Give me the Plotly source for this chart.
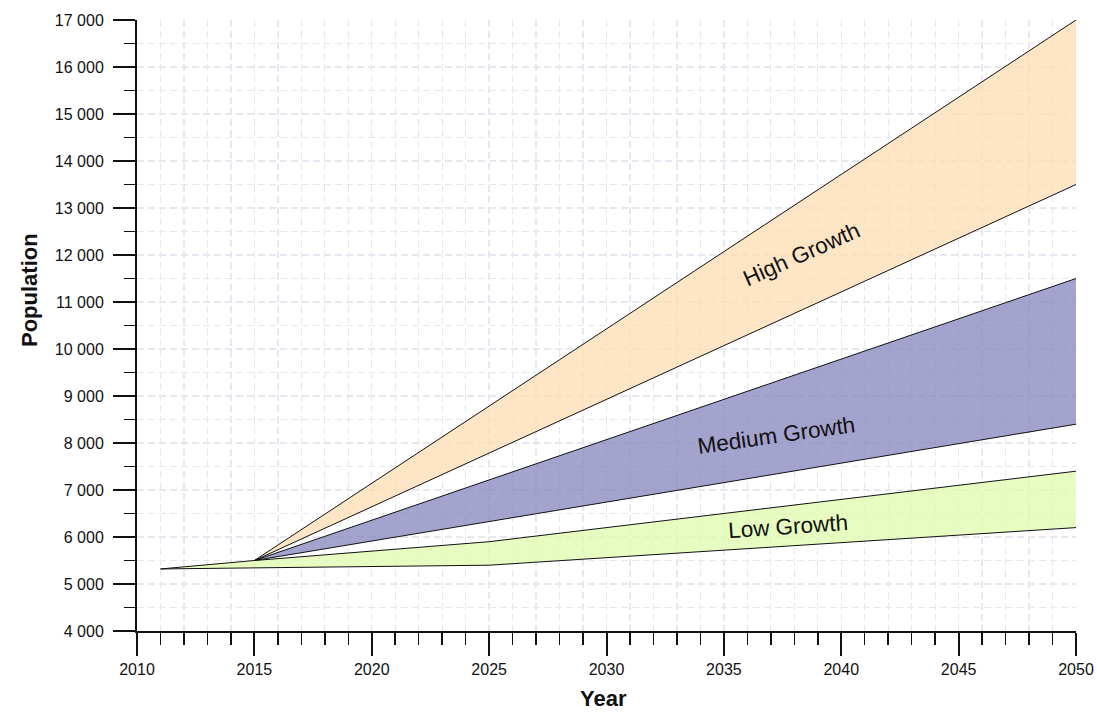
import plotly.graph_objects as go

# ---- data ----
low_lower_years = [2011, 2025, 2050]
low_lower = [5320, 5400, 6200]
low_upper_years = [2011, 2015, 2025, 2050]
low_upper = [5320, 5500, 5900, 7400]

medium_years = [2015, 2050]
medium_lower = [5500, 8400]
medium_upper = [5500, 11500]

high_years = [2015, 2050]
high_lower = [5500, 13500]
high_upper = [5500, 17000]

band_labels = ["High Growth", "Medium Growth", "Low Growth"]
label_x = [2038.3, 2037.25, 2037.75]
label_y = [12010, 8150, 6220]
label_angle = [-24, -8, -4]

# ---- styling ----
FONT = "Liberation Sans, Arial, sans-serif"
fill_high = "rgba(252,222,184,0.8)"
fill_med = "rgba(140,140,194,0.8)"
fill_low = "rgba(224,251,178,0.8)"
LINE = dict(color="#111111", width=1)

L, T, R, B = 137, 20, 21, 81
W, H = 1097, 712
PW = W - L - R
PH = H - T - B

fig = go.Figure()

def band(xu, yu, xl, yl, color):
    fig.add_trace(go.Scatter(
        x=list(xu) + list(xl)[::-1], y=list(yu) + list(yl)[::-1],
        fill="toself", fillcolor=color, mode="lines",
        line=dict(width=0, color=color), hoverinfo="skip", showlegend=False))

band(high_years, high_upper, high_years, high_lower, fill_high)
band(medium_years, medium_upper, medium_years, medium_lower, fill_med)
band(low_upper_years, low_upper, low_lower_years, low_lower, fill_low)

for xs, ys in [(high_years, high_upper), (high_years, high_lower),
               (medium_years, medium_upper), (medium_years, medium_lower),
               (low_upper_years, low_upper), (low_lower_years, low_lower)]:
    fig.add_trace(go.Scatter(x=xs, y=ys, mode="lines", line=LINE,
                             hoverinfo="skip", showlegend=False))

for t, x, y, a in zip(band_labels, label_x, label_y, label_angle):
    fig.add_annotation(x=x, y=y, xref="x", yref="y", text=t, textangle=a,
                       xanchor="center", yanchor="middle",
                       showarrow=False, font=dict(family=FONT, size=22.5, color="#111111"))

# axis titles (positions in screen px relative to plot area)
fig.add_annotation(x=(603 - L) / PW, y=(H - B - 698) / PH, xref="paper", yref="paper",
                   xanchor="center", yanchor="middle",
                   text="<b>Year</b>", showarrow=False,
                   font=dict(family=FONT, size=22, color="#111111"))
fig.add_annotation(x=(29 - L) / PW, y=(H - B - 290) / PH, xref="paper", yref="paper",
                   xanchor="center", yanchor="middle",
                   text="<b>Population</b>", showarrow=False, textangle=-90,
                   font=dict(family=FONT, size=22, color="#111111"))

GRID = "#e7e7ef"
DASH = "7px,4px"

fig.update_layout(
    template="none",
    width=W, height=H,
    margin=dict(l=L, r=R, t=T, b=B, autoexpand=False),
    paper_bgcolor="white", plot_bgcolor="white",
    separators=". ",
    showlegend=False,
    hovermode=False,
    xaxis=dict(
        range=[2010, 2050], tick0=2010, dtick=5, automargin=False,
        ticks="outside", ticklen=23, tickwidth=2, tickcolor="#111111",
        showline=True, linecolor="#111111", linewidth=2,
        showgrid=True, gridcolor=GRID, gridwidth=1.3, griddash=DASH,
        zeroline=False, tickformat="d",
        tickfont=dict(family=FONT, size=16, color="#111111"),
        ticklabelstandoff=0,
        minor=dict(dtick=1, ticks="outside", ticklen=12, tickwidth=1.5,
                   tickcolor="#111111", showgrid=True, gridcolor=GRID,
                   gridwidth=1.3, griddash=DASH),
    ),
    yaxis=dict(
        range=[4000, 17000], tick0=4000, dtick=1000, automargin=False,
        ticks="outside", ticklen=22, tickwidth=2, tickcolor="#111111",
        showline=True, linecolor="#111111", linewidth=2,
        showgrid=True, gridcolor=GRID, gridwidth=1.3, griddash=DASH,
        zeroline=False, tickformat=",d",
        tickfont=dict(family=FONT, size=16, color="#111111"),
        ticklabelstandoff=6,
        minor=dict(dtick=500, ticks="outside", ticklen=11, tickwidth=1.5,
                   tickcolor="#111111", showgrid=True, gridcolor=GRID,
                   gridwidth=1.3, griddash=DASH),
    ),
)

# remove the default 8px page margin so the figure fills the window exactly
fig.write_html(
    "out.html",
    config={"displayModeBar": False, "staticPlot": True},
    post_script="document.body.style.margin='0';document.body.style.overflow='hidden';",
)
